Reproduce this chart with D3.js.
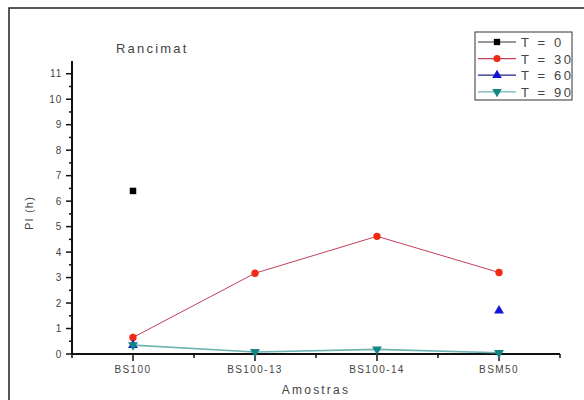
<!DOCTYPE html>
<html>
<head>
<meta charset="utf-8">
<script src="https://cdn.jsdelivr.net/npm/d3@7"></script>
<style>
  body { margin: 0; background: #fff; }
  text { font-family: "Liberation Sans", Arial, sans-serif; fill: #444; }
</style>
</head>
<body>
<svg id="chart" width="584" height="400"></svg>
<script>
// samples on the x axis
var samples = ["BS100", "BS100-13", "BS100-14", "BSM50"];
// PI (h) per series, null = not measured
var t0 = [6.4, null, null, null];
var t30 = [0.65, 3.17, 4.62, 3.2];
var t60 = [0.35, null, null, 1.7];
var t90 = [0.35, 0.08, 0.18, 0.05];
var yTicks = [0, 1, 2, 3, 4, 5, 6, 7, 8, 9, 10, 11];

var series = [
  { name: "T = 0", values: t0, line: "#333", fill: "#000", shape: d3.symbolSquare },
  { name: "T = 30", values: t30, line: "#c0405a", fill: "#f02a14", shape: d3.symbolCircle },
  { name: "T = 60", values: t60, line: "#22228a", fill: "#1414d8", shape: d3.symbolTriangle },
  { name: "T = 90", values: t90, line: "#6fb3b3", fill: "#128585", shape: "down" }
];

const svg = d3.select("#chart");

// outer frame, runs off the right and bottom edges
svg.append("rect")
  .attr("x", 9).attr("y", 8)
  .attr("width", 600).attr("height", 420)
  .attr("fill", "none")
  .attr("stroke", "#222")
  .attr("stroke-width", 1.5);

const x = d3.scaleLinear().domain([0.5, 4.5]).range([72, 560]);
const y = d3.scaleLinear().domain([0, 11.5]).range([354, 61]);

// y axis
const yAxis = svg.append("g").attr("transform", "translate(72,0)");
yAxis.append("line")
  .attr("y1", y(0)).attr("y2", y(11.5))
  .attr("stroke", "#111").attr("stroke-width", 2);
yAxis.selectAll(".minor")
  .data(d3.range(0.5, 11.5, 1))
  .enter().append("line")
  .attr("x1", -3).attr("x2", 0)
  .attr("y1", d => y(d)).attr("y2", d => y(d))
  .attr("stroke", "#111").attr("stroke-width", 1.5);
yAxis.selectAll(".major")
  .data(yTicks)
  .enter().append("line")
  .attr("x1", -6).attr("x2", 0)
  .attr("y1", d => y(d)).attr("y2", d => y(d))
  .attr("stroke", "#111").attr("stroke-width", 1.5);
yAxis.selectAll(".lbl")
  .data(yTicks)
  .enter().append("text")
  .attr("x", -10)
  .attr("y", d => y(d) + 3.5)
  .attr("text-anchor", "end")
  .attr("font-size", 10)
  .attr("letter-spacing", 0.8)
  .text(d => d);

// x axis
const xAxis = svg.append("g").attr("transform", "translate(0,354)");
xAxis.append("line")
  .attr("x1", x(0.5)).attr("x2", x(4.5))
  .attr("stroke", "#111").attr("stroke-width", 2);
xAxis.selectAll(".minor")
  .data(d3.range(0.5, 5, 1))
  .enter().append("line")
  .attr("x1", d => x(d)).attr("x2", d => x(d))
  .attr("y1", 0).attr("y2", 4)
  .attr("stroke", "#111").attr("stroke-width", 1.5);
xAxis.selectAll(".major")
  .data(samples)
  .enter().append("line")
  .attr("x1", (d, i) => x(i + 1)).attr("x2", (d, i) => x(i + 1))
  .attr("y1", 0).attr("y2", 7)
  .attr("stroke", "#111").attr("stroke-width", 1.5);
xAxis.selectAll(".lbl")
  .data(samples)
  .enter().append("text")
  .attr("x", (d, i) => x(i + 1))
  .attr("y", 19)
  .attr("text-anchor", "middle")
  .attr("font-size", 10)
  .attr("letter-spacing", 1.4)
  .text(d => d);

// titles
svg.append("text")
  .attr("x", 116).attr("y", 53)
  .attr("font-size", 13)
  .attr("letter-spacing", 2.2)
  .attr("fill", "#333")
  .text("Rancimat");
svg.append("text")
  .attr("x", 316).attr("y", 394)
  .attr("text-anchor", "middle")
  .attr("font-size", 12)
  .attr("letter-spacing", 2.2)
  .text("Amostras");
svg.append("text")
  .attr("transform", "translate(33,213) rotate(-90)")
  .attr("text-anchor", "middle")
  .attr("font-size", 11)
  .attr("letter-spacing", 1.2)
  .text("PI (h)");

// series
series.forEach(s => {
  const pts = s.values.map((v, i) => ({ i: i + 1, v: v })).filter(d => d.v != null);
  const line = d3.line().x(d => x(d.i)).y(d => y(d.v));
  if (pts.length > 1 && s.values.every(v => v != null)) {
    svg.append("path")
      .attr("d", line(pts))
      .attr("fill", "none")
      .attr("stroke", s.line)
      .attr("stroke-width", s.shape === "down" ? 1.6 : 1);
  }
  const sym = d3.symbol().type(s.shape === "down" ? d3.symbolTriangle : s.shape).size(42);
  svg.selectAll(null)
    .data(pts)
    .enter().append("path")
    .attr("d", sym)
    .attr("transform", d => "translate(" + x(d.i) + "," + y(d.v) + ")" + (s.shape === "down" ? " rotate(180)" : ""))
    .attr("fill", s.fill);
});

// legend
const lg = svg.append("g").attr("transform", "translate(475,32)");
lg.append("rect")
  .attr("width", 97).attr("height", 68)
  .attr("fill", "#fff")
  .attr("stroke", "#333").attr("stroke-width", 1);
series.forEach((s, i) => {
  const yy = 10 + i * 16.6;
  lg.append("line")
    .attr("x1", 3).attr("x2", 41)
    .attr("y1", yy).attr("y2", yy)
    .attr("stroke", s.line).attr("stroke-width", 1.2);
  lg.append("path")
    .attr("d", d3.symbol().type(s.shape === "down" ? d3.symbolTriangle : s.shape).size(40))
    .attr("transform", "translate(22," + yy + ")" + (s.shape === "down" ? " rotate(180)" : ""))
    .attr("fill", s.fill);
  lg.append("text")
    .attr("x", 46).attr("y", yy + 5)
    .attr("font-size", 13)
    .attr("letter-spacing", 2.6)
    .attr("fill", "#333")
    .text(s.name);
});
</script>
</body>
</html>
